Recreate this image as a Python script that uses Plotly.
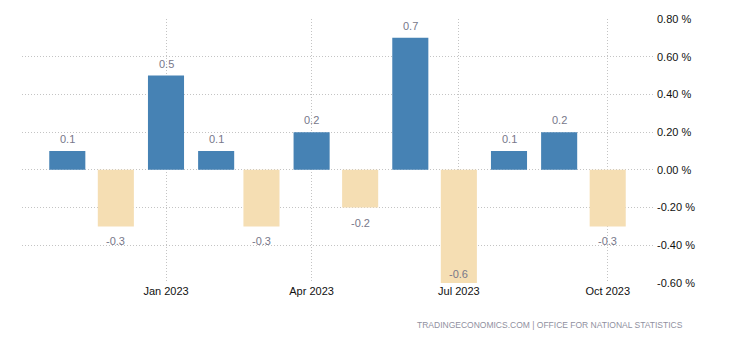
import plotly.graph_objects as go

months = ["2022-11-01", "2022-12-01", "2023-01-01", "2023-02-01", "2023-03-01", "2023-04-01",
          "2023-05-01", "2023-06-01", "2023-07-01", "2023-08-01", "2023-09-01", "2023-10-01"]
values = [0.1, -0.3, 0.5, 0.1, -0.3, 0.2, -0.2, 0.7, -0.6, 0.1, 0.2, -0.3]
tick_dates = ["2023-01-01", "2023-04-01", "2023-07-01", "2023-10-01"]
tick_labels = ["Jan 2023", "Apr 2023", "Jul 2023", "Oct 2023"]
y_ticks = [0.8, 0.6, 0.4, 0.2, 0.0, -0.2, -0.4, -0.6]

BLUE = "#4682B4"
WHEAT = "#F5DEB3"
colors = [BLUE if v >= 0 else WHEAT for v in values]
FONT = "Liberation Sans, Arial, sans-serif"

day_ms = 86400000
fig = go.Figure()
fig.add_trace(go.Bar(
    x=months, y=values, marker=dict(color=colors, line=dict(width=0)),
    width=[22.3 * day_ms] * len(values), hoverinfo="skip",
))

ymin, ymax = -0.6, 0.8
annotations = []
for m, v in zip(months, values):
    if v >= 0:
        ys = 12
    elif v <= ymin + 1e-9:
        ys = 9
    else:
        ys = -15
    annotations.append(dict(
        x=m, y=v, xref="x", yref="y", text=f"{v:g}", showarrow=False,
        yshift=ys, font=dict(family=FONT, size=11, color="#77778a"),
    ))

fw, fh = 730 - 22 - 77, 340 - 19 - 57
annotations.append(dict(
    x=(685 - 22) / fw, y=(340 - 57 - 325) / fh, xref="paper", yref="paper",
    text="TRADINGECONOMICS.COM | OFFICE FOR NATIONAL STATISTICS",
    showarrow=False, xanchor="right", yanchor="middle",
    font=dict(family=FONT, size=8.5, color="#9090a0"),
))

fig.update_layout(
    width=730, height=340,
    margin=dict(l=22, r=77, t=19, b=57),
    paper_bgcolor="white", plot_bgcolor="white",
    showlegend=False,
    font=dict(family=FONT, size=11, color="#111"),
    annotations=annotations,
)

fig.update_xaxes(
    type="date", range=["2022-10-04", "2023-10-29"],
    tickvals=tick_dates, ticktext=tick_labels,
    showgrid=True, gridcolor="#c4c4c4", griddash="1px,2px", gridwidth=1,
    zeroline=False, showline=False, ticks="",
    tickfont=dict(size=11, color="#111"),
)
fig.update_yaxes(
    range=[ymin, ymax], side="right",
    tickvals=y_ticks, ticktext=[f"{t:.2f} %" for t in y_ticks],
    showgrid=True, gridcolor="#c4c4c4", griddash="1px,2px", gridwidth=1,
    zeroline=False, showline=False, ticks="",
    tickfont=dict(size=11, color="#111"),
    ticklabelstandoff=3,
)

fig.write_html("out.html")
